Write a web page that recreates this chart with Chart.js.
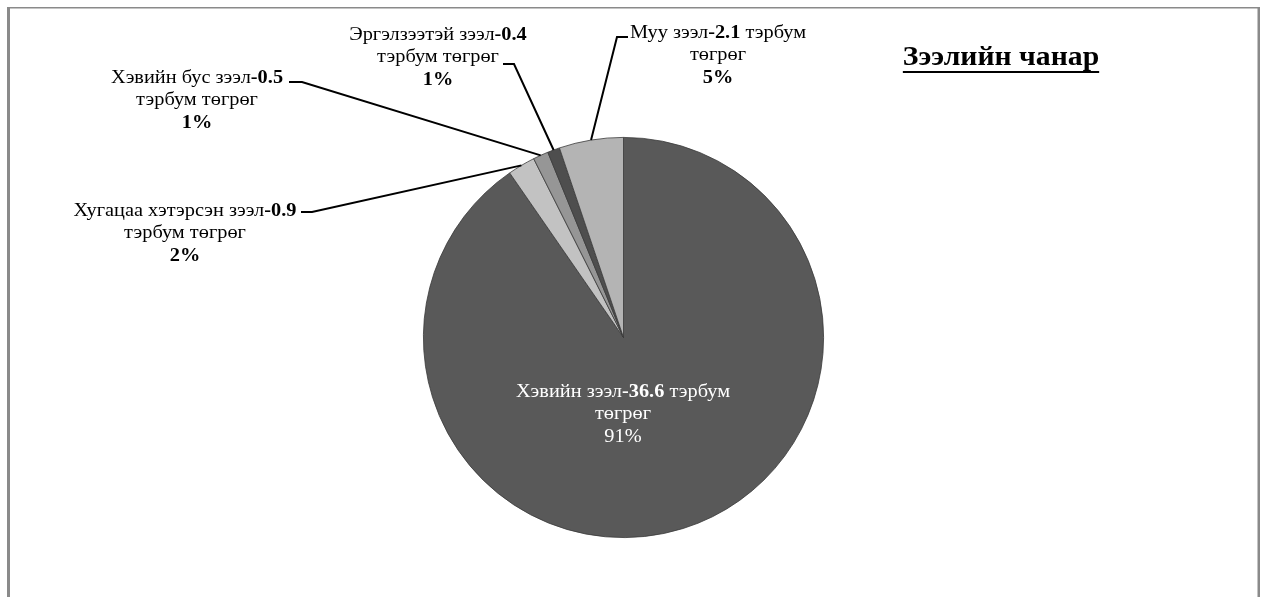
<!DOCTYPE html>
<html>
<head>
<meta charset="utf-8">
<script src="https://cdn.jsdelivr.net/npm/chart.js@4.4.1/dist/chart.umd.min.js"></script>
<style>
html, body { margin: 0; padding: 0; background: #fff; }
</style>
</head>
<body>
<canvas id="chart" width="1261" height="597"></canvas>
<script>
const loanTypes = ["Хэвийн зээл", "Хугацаа хэтэрсэн зээл", "Хэвийн бус зээл", "Эргэлзээтэй зээл", "Муу зээл"];
const amounts = [36.6, 0.9, 0.5, 0.4, 2.1];
const shares = ["91%", "2%", "1%", "1%", "5%"];
const unitWords = ["тэрбум", "төгрөг"];
const chartTitle = "Зээлийн чанар";

const sliceColors = ["#595959", "#c2c2c2", "#969696", "#4e4e4e", "#b4b4b4"];
const serif = '"Liberation Serif", "DejaVu Serif", serif';

// where each label sits (centre of first line), and its leader line bend
const labelSpots = [
  { x: 623, y: 392, split: 1, color: "#ffffff", pctBold: false },
  { x: 185, y: 211, split: 0, bend: [312, 212], end: [301, 212] },
  { x: 197, y: 78, split: 0, bend: [302, 82], end: [289, 82] },
  { x: 438, y: 35, split: 0, bend: [514, 64], end: [503, 64] },
  { x: 718, y: 33, split: 1, bend: [617, 37], end: [628, 37] },
];

// the source text is drawn wider than a plain serif face
const drawRuns = (ctx, runs, cx, cy, size, color, stretch) => {
  let total = 0;
  runs.forEach((r) => {
    ctx.font = (r.bold ? "bold " : "") + size + "px " + serif;
    r.w = ctx.measureText(r.t).width * stretch;
    total += r.w;
  });
  let x = cx - total / 2;
  ctx.fillStyle = color;
  ctx.textBaseline = "middle";
  ctx.textAlign = "left";
  runs.forEach((r) => {
    ctx.font = (r.bold ? "bold " : "") + size + "px " + serif;
    ctx.save();
    ctx.translate(x, cy);
    ctx.scale(stretch, 1);
    ctx.fillText(r.t, 0, 0);
    ctx.restore();
    x += r.w;
  });
  return total;
};

const decor = {
  id: "decor",
  beforeDraw(chart) {
    const ctx = chart.ctx;
    ctx.save();
    ctx.fillStyle = "#8a8a8a";
    ctx.fillRect(7, 7, 1253, 1.5);
    ctx.fillRect(7, 7, 3, 600);
    ctx.fillRect(1257.5, 7, 2.5, 600);
    ctx.restore();
  },
  afterDatasetsDraw(chart) {
    const ctx = chart.ctx;
    const arcs = chart.getDatasetMeta(0).data;
    ctx.save();
    labelSpots.forEach((spot, i) => {
      const arc = arcs[i];
      if (spot.bend) {
        const mid = (arc.startAngle + arc.endAngle) / 2;
        ctx.beginPath();
        ctx.moveTo(arc.x + Math.cos(mid) * arc.outerRadius, arc.y + Math.sin(mid) * arc.outerRadius);
        ctx.lineTo(spot.bend[0], spot.bend[1]);
        ctx.lineTo(spot.end[0], spot.end[1]);
        ctx.strokeStyle = "#000";
        ctx.lineWidth = 2;
        ctx.stroke();
      }
      const color = spot.color || "#000";
      const val = "-" + amounts[i].toFixed(1);
      let line1, line2;
      if (spot.split === 1) {
        line1 = [{ t: loanTypes[i] }, { t: val, bold: true }, { t: " " + unitWords[0] }];
        line2 = [{ t: unitWords[1] }];
      } else {
        line1 = [{ t: loanTypes[i] }, { t: val, bold: true }];
        line2 = [{ t: unitWords.join(" ") }];
      }
      drawRuns(ctx, line1, spot.x, spot.y, 18, color, 1.13);
      drawRuns(ctx, line2, spot.x, spot.y + 22.5, 18, color, 1.13);
      drawRuns(ctx, [{ t: shares[i], bold: spot.pctBold !== false }], spot.x, spot.y + 45, 18, color, 1.13);
    });

    const tw = drawRuns(ctx, [{ t: chartTitle, bold: true }], 1001, 58, 27, "#000", 1.1);
    ctx.fillStyle = "#000";
    ctx.fillRect(1001 - tw / 2, 71, tw, 2);
    ctx.restore();
  },
};

new Chart(document.getElementById("chart"), {
  type: "pie",
  data: {
    labels: loanTypes,
    datasets: [
      {
        data: amounts,
        backgroundColor: sliceColors,
        borderColor: "#3a3a3a",
        borderWidth: 0.8,
      },
    ],
  },
  options: {
    responsive: false,
    animation: false,
    layout: { padding: { left: 423, right: 437, top: 137, bottom: 59 } },
    plugins: {
      legend: { display: false },
      tooltip: { enabled: false },
    },
  },
  plugins: [decor],
});
</script>
</body>
</html>
